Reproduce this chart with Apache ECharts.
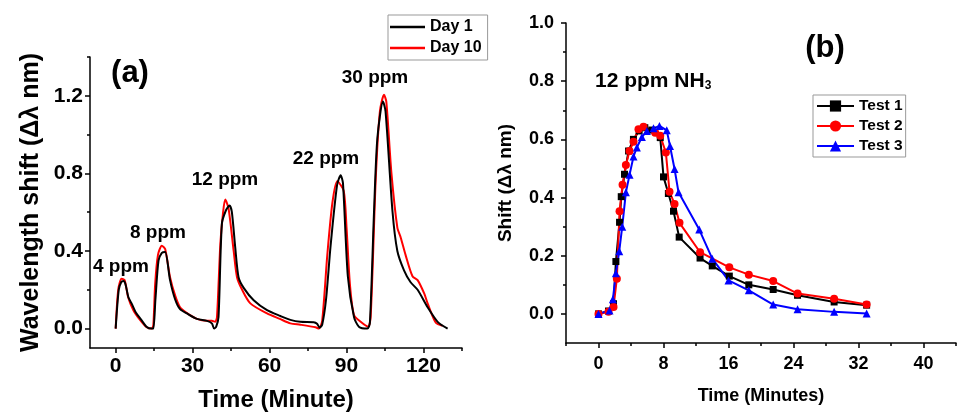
<!DOCTYPE html>
<html>
<head>
<meta charset="utf-8">
<script src="https://cdn.jsdelivr.net/npm/echarts@6/dist/echarts.min.js"></script>
<style>
html,body{margin:0;padding:0;background:#fff;}
#c{width:960px;height:417px;}
</style>
</head>
<body>
<div id="c"></div>
<script>
// ---------- Panel (a) data: [time (min), wavelength shift (nm)] ----------
const day1 = [
[0,0],[1.2,0.2],[2.2,0.24],[3,0.245],[3.8,0.23],[5,0.16],[6.2,0.13],[8,0.08],[10,0.045],[12,0.01],[14,0.0],[14.7,0.0],
[15.5,0.15],[16.7,0.35],[18,0.39],[19.3,0.395],[21.2,0.25],[23.2,0.15],[25.1,0.1],[27.8,0.078],[31.7,0.05],[35.6,0.04],
[37.5,0.027],[38.4,0.0],[39.2,0.01],[40.1,0.06],[41.4,0.54],[43,0.61],[44.4,0.635],[45.3,0.6],[46.6,0.42],[47.9,0.265],
[49.9,0.21],[53.8,0.146],[59,0.095],[64.2,0.065],[68.1,0.045],[72,0.035],[77.2,0.033],[78.5,0.025],[79.5,0.005],[80.5,0.02],
[82,0.15],[83.8,0.43],[86.3,0.74],[87.7,0.79],[88.6,0.75],[90.5,0.27],[92.9,0.06],[94.8,0.01],[98.1,0.0],[99.1,0.03],
[100.7,0.6],[102,0.98],[104.2,1.17],[105.2,1.12],[107.9,0.605],[109.8,0.40],[112.4,0.30],[114.9,0.24],[117.7,0.2],
[121.6,0.11],[125.5,0.035],[129.4,0.0]
];
const day10 = [
[0,0],[1,0.2],[2.3,0.257],[3.5,0.25],[4.9,0.16],[6.9,0.095],[9.5,0.045],[12.1,0.007],[14.1,0.0],[14.7,0.02],
[15.4,0.23],[16.5,0.38],[18,0.427],[19.3,0.41],[21.2,0.265],[23.2,0.17],[25.1,0.11],[27.8,0.08],[31.7,0.05],[35.6,0.04],
[37.5,0.04],[38.8,0.035],[39.5,0.06],[40.8,0.435],[41.8,0.59],[42.7,0.665],[44,0.62],[46,0.40],[47.3,0.265],[49.3,0.20],
[52.5,0.13],[59,0.078],[64,0.05],[68.1,0.027],[72,0.02],[77.9,0.007],[79.2,0.0],[80.5,0.04],[82.5,0.38],[84.5,0.65],
[86.4,0.76],[88.9,0.71],[90,0.52],[91.3,0.23],[92.9,0.07],[95.5,0.035],[98.4,0.01],[99.4,0.06],[101.4,0.78],[103,1.12],
[104.6,1.205],[105.5,1.17],[107.5,0.8],[109.8,0.52],[111.1,0.47],[113,0.38],[115.7,0.27],[117.7,0.25],[120.3,0.18],
[121.6,0.13],[124.8,0.03],[127.4,0.015]
];
// ---------- Panel (b) data: [time (min), shift (nm)] ----------
const test1 = [
[0,0],[1.23,0.01],[1.85,0.035],[2.14,0.18],[2.59,0.315],[2.8,0.403],[3.2,0.48],[3.7,0.56],[4.3,0.6],[5.0,0.629],
[5.7,0.64],[6.57,0.632],[7.6,0.606],[8.0,0.471],[8.6,0.414],[9.23,0.353],[9.93,0.264],[12.5,0.192],[14,0.165],
[16.1,0.13],[18.5,0.1],[21.5,0.084],[24.5,0.064],[29,0.041],[33,0.03]
];
const test2 = [
[0,0],[1.23,0.007],[1.85,0.024],[2.26,0.121],[2.59,0.353],[2.96,0.444],[3.37,0.512],[3.82,0.56],[4.31,0.592],
[4.92,0.635],[5.54,0.643],[6.98,0.623],[7.6,0.612],[8.29,0.555],[8.74,0.42],[9.36,0.378],[9.97,0.313],[12.5,0.212],
[16.1,0.16],[18.5,0.135],[21.5,0.113],[24.5,0.07],[29,0.052],[33,0.032]
];
const test3 = [
[0,0],[1.35,0.012],[1.77,0.05],[2.14,0.14],[2.55,0.215],[2.92,0.3],[3.37,0.418],[3.82,0.478],[4.31,0.541],
[4.72,0.572],[5.34,0.608],[5.95,0.629],[6.77,0.638],[7.5,0.646],[8.4,0.631],[8.8,0.577],[9.36,0.498],[9.85,0.418],
[12.4,0.29],[14,0.19],[16,0.115],[18.5,0.081],[21.5,0.032],[24.5,0.016],[29,0.007],[33,0.001]
];
// ---------- Tick values ----------
const aXLabels = [0,30,60,90,120];
const aXMinor = [15,45,75,105,135];
const aYLabels = [0,0.4,0.8,1.2];
const aYMinor = [0.2,0.6,1.0,1.4];
const bXLabels = [0,8,16,24,32,40];
const bXMinor = [-4,4,12,20,28,36,44];
const bYLabels = [0,0.2,0.4,0.6,0.8,1.0];
const bYMinor = [0.1,0.3,0.5,0.7,0.9];
const aNotes = [['4 ppm',121,267],['8 ppm',158,233],['12 ppm',225,180],['22 ppm',326,159],['30 ppm',375,78]];

const FF = '"Liberation Sans", Arial, sans-serif';
const chart = echarts.init(document.getElementById('c'));

function mainAxis(grid, pos, min, max, labels, labelSize, margin, fmt, name, nameSize, nameGap) {
  return {
    type:'value', gridIndex:grid, position:pos, min:min, max:max,
    axisLine:{show:true, onZero:false, lineStyle:{color:'#000', width:1.5}},
    axisTick:{show:true, inside:false, length:5, customValues:labels, lineStyle:{color:'#000', width:1.5}},
    axisLabel:{show:true, customValues:labels, margin:margin, color:'#000', fontFamily:FF, fontWeight:'bold', fontSize:labelSize, formatter:fmt},
    splitLine:{show:false},
    name:name, nameLocation:'middle', nameGap:nameGap,
    nameTextStyle:{color:'#000', fontFamily:FF, fontWeight:'bold', fontSize:nameSize}
  };
}
function minorAxis(grid, pos, min, max, vals) {
  return {
    type:'value', gridIndex:grid, position:pos, min:min, max:max,
    axisLine:{show:false, onZero:false},
    axisTick:{show:true, inside:false, length:3, customValues:vals, lineStyle:{color:'#000', width:1.5}},
    axisLabel:{show:false},
    splitLine:{show:false}
  };
}
const f1 = v => v.toFixed(1);
const f0 = v => String(v);

const graphics = [];
aNotes.forEach(n => graphics.push({type:'text', x:n[1], y:n[2],
  style:{text:n[0], fill:'#000', font:'bold 19px ' + FF, textAlign:'center', textVerticalAlign:'middle'}}));
graphics.push({type:'text', x:130, y:73, style:{text:'(a)', fill:'#000', font:'bold 31px ' + FF, textAlign:'center', textVerticalAlign:'middle'}});
graphics.push({type:'text', x:825, y:48, style:{text:'(b)', fill:'#000', font:'bold 31px ' + FF, textAlign:'center', textVerticalAlign:'middle'}});
graphics.push({type:'text', x:595, y:70, style:{text:'{m|12 ppm NH}{s|3}', fill:'#000',
  rich:{m:{fontFamily:FF, fontWeight:'bold', fontSize:21, lineHeight:22, fill:'#000'},
        s:{fontFamily:FF, fontWeight:'bold', fontSize:12, lineHeight:10, verticalAlign:'bottom', fill:'#000'}}}});

const option = {
  animation:false,
  backgroundColor:'#fff',
  grid:[
    {left:90, top:57, width:372, height:295},
    {left:566, top:23, width:390, height:320}
  ],
  xAxis:[
    mainAxis(0,'bottom',-10,135,aXLabels,21,8,f0,'Time (Minute)',24,40),
    minorAxis(0,'bottom',-10,135,aXMinor),
    mainAxis(1,'bottom',-4,44,bXLabels,18,12,f0,'Time (Minutes)',18,44),
    minorAxis(1,'bottom',-4,44,bXMinor)
  ],
  yAxis:[
    mainAxis(0,'left',-0.1,1.4,aYLabels,21,7,f1,'Wavelength shift (\u0394\u03bb nm)',25,46),
    minorAxis(0,'left',-0.1,1.4,aYMinor),
    mainAxis(1,'left',-0.1,1.0,bYLabels,18,12,f1,'Shift (\u0394\u03bb nm)',19,51),
    minorAxis(1,'left',-0.1,1.0,bYMinor)
  ],
  legend:[
    {orient:'vertical', left:388, top:15, padding:[4,6,4,2], itemGap:5, itemWidth:35, itemHeight:2.5,
     icon:'rect',
     borderColor:'#999', borderWidth:1, backgroundColor:'#fff',
     data:['Day 1','Day 10'],
     textStyle:{color:'#000', fontFamily:FF, fontWeight:'bold', fontSize:16}},
    {orient:'vertical', left:813, top:95, padding:[3,3,3,3], itemGap:4, itemWidth:37, itemHeight:14,
     borderColor:'#999', borderWidth:1, backgroundColor:'#fff',
     data:['Test 1','Test 2','Test 3'],
     textStyle:{color:'#000', fontFamily:FF, fontWeight:'bold', fontSize:15.5}}
  ],
  series:[
    {name:'Day 1', type:'line', xAxisIndex:0, yAxisIndex:0, data:day1, symbol:'none', smooth:0.25,
     lineStyle:{color:'#000', width:2}, itemStyle:{color:'#000'}, z:3},
    {name:'Day 10', type:'line', xAxisIndex:0, yAxisIndex:0, data:day10, symbol:'none', smooth:0.25,
     lineStyle:{color:'#ff0000', width:2}, itemStyle:{color:'#ff0000'}, z:2},
    {name:'Test 1', type:'line', xAxisIndex:2, yAxisIndex:2, data:test1, symbol:'rect', symbolSize:7,
     lineStyle:{color:'#000', width:2}, itemStyle:{color:'#000'}},
    {name:'Test 2', type:'line', xAxisIndex:2, yAxisIndex:2, data:test2, symbol:'circle', symbolSize:8,
     lineStyle:{color:'#ff0000', width:2}, itemStyle:{color:'#ff0000'}},
    {name:'Test 3', type:'line', xAxisIndex:2, yAxisIndex:2, data:test3, symbol:'triangle', symbolSize:8,
     lineStyle:{color:'#0000ff', width:2}, itemStyle:{color:'#0000ff'}}
  ],
  graphic:graphics
};
chart.setOption(option);
</script>
</body>
</html>
